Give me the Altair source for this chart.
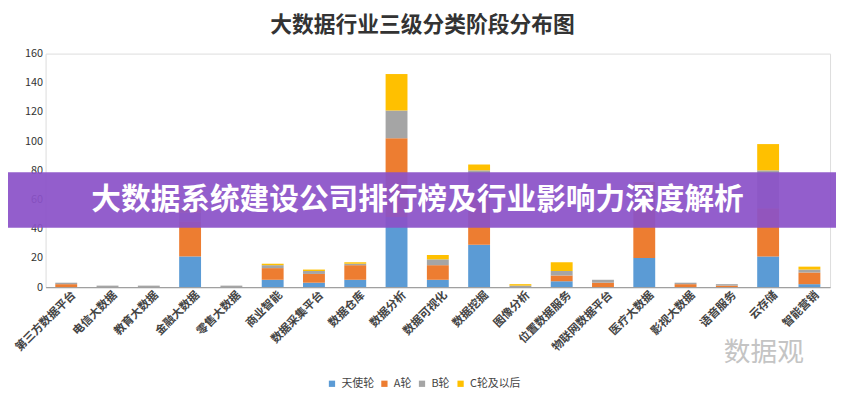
import altair as alt
import pandas as pd

categories = ["第三方数据平台", "电信大数据", "教育大数据", "金融大数据", "零售大数据",
              "商业智能", "数据采集平台", "数据仓库", "数据分析", "数据可视化",
              "数据挖掘", "图像分析", "位置数据服务", "物联网数据平台", "医疗大数据",
              "影视大数据", "语音服务", "云存储", "智能营销"]
series = ["天使轮", "A轮", "B轮", "C轮及以后"]
angel = [0, 0, 0, 21, 0, 5, 3, 5, 48, 5, 29, 0, 4, 0, 20, 0, 0, 21, 2]
round_a = [2, 0, 0, 24, 0, 8, 6, 10, 54, 10, 32, 0, 4, 3, 35, 2, 1, 33, 8]
round_b = [1, 1, 1, 6, 1, 2, 2, 1, 19, 4, 19, 1, 3, 2, 13, 1, 1, 26, 2]
round_c = [0, 0, 0, 2, 0, 1, 1, 1, 25, 3, 4, 1, 6, 0, 4, 0, 0, 18, 2]
colors = ["#5B9BD5", "#ED7D31", "#A5A5A5", "#FFC000"]
y_ticks = [0, 20, 40, 60, 80, 100, 120, 140, 160]

title_text = ["大数据行业三级分类阶段分布图"]
banner_text = ["大数据系统建设公司排行榜及行业影响力深度解析"]
watermark_text = ["数据观"]

rows = []
for si, (s, vals) in enumerate(zip(series, [angel, round_a, round_b, round_c])):
    for c, v in zip(categories, vals):
        rows.append({"category": c, "series": s, "value": v, "order": si})
df = pd.DataFrame(rows)

FONT = "Noto Sans CJK SC"

bars = alt.Chart(df).mark_bar(strokeWidth=0).encode(
    x=alt.X("category:N", sort=categories, title=None,
            scale=alt.Scale(paddingInner=0.47, paddingOuter=0.235),
            axis=alt.Axis(labelAngle=-45, labelAlign="right", labelBaseline="middle",
                          labelFontSize=11.5, labelColor="#444", labelFont=FONT,
                          labelFontWeight="bold",
                          ticks=False, domainColor="#a0a0a0", domainWidth=1.2,
                          labelPadding=6, labelOffset=8)),
    y=alt.Y("value:Q", title=None,
            scale=alt.Scale(domain=[0, 160], nice=False),
            axis=alt.Axis(values=y_ticks, grid=False, domain=False, ticks=False,
                          labelFontSize=11, labelColor="#333", labelPadding=3)),
    color=alt.Color("series:N", sort=series,
                    scale=alt.Scale(domain=series, range=colors),
                    legend=alt.Legend(orient="none", legendX=284, legendY=328,
                                      direction="horizontal", title=None,
                                      symbolType="square", symbolSize=40,
                                      symbolStrokeWidth=0,
                                      labelFontSize=11, labelFont=FONT,
                                      labelColor="#444", columnPadding=5)),
    order=alt.Order("order:Q", sort="ascending"),
)

title = alt.Chart(pd.DataFrame({"t": title_text})).mark_text(
    fontSize=22, fontWeight="bold", font=FONT, color="#333"
).encode(x=alt.value(381), y=alt.value(-29), text="t:N")

banner = alt.Chart(pd.DataFrame({"t": banner_text})).mark_rect(
    color="#8B52C8", opacity=0.93
).encode(x=alt.value(-46), x2=alt.value(800), y=alt.value(120), y2=alt.value(176))

banner_label = alt.Chart(pd.DataFrame({"t": banner_text})).mark_text(
    fontSize=30, fontWeight="bold", font=FONT, color="white"
).encode(x=alt.value(376), y=alt.value(148), text="t:N")

watermark = alt.Chart(pd.DataFrame({"t": watermark_text})).mark_text(
    fontSize=27, font=FONT, color="#c4c4c4"
).encode(x=alt.value(726), y=alt.value(303), text="t:N")

chart = alt.layer(bars, title, banner, banner_label, watermark).properties(
    width=793, height=236,
    autosize=alt.AutoSizeParams(type="none"),
    padding={"left": 38, "top": 44, "right": 6, "bottom": 108},
).configure_view(stroke=None, strokeWidth=0).configure(font=FONT)

chart.save("out.html", embed_options={"renderer": "svg", "actions": False})
